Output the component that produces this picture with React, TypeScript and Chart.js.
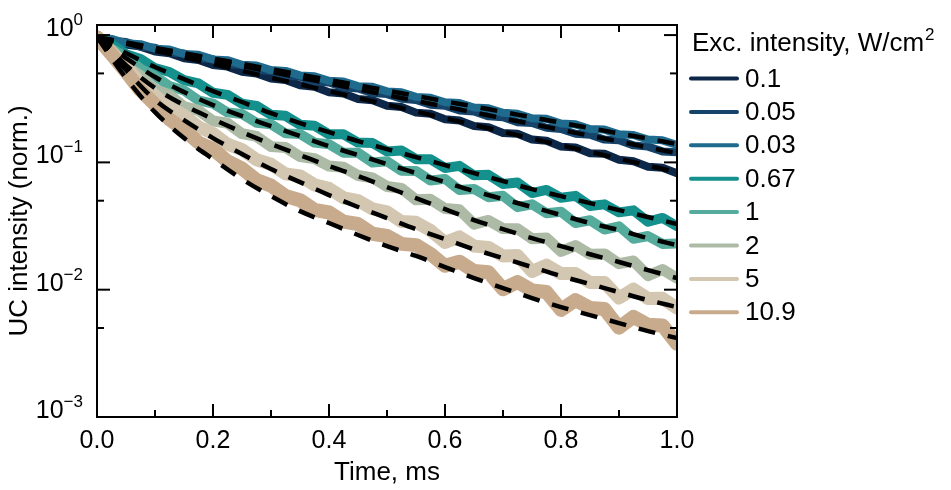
import React, { useEffect, useRef } from 'react';
import { Chart, registerables } from 'chart.js';

Chart.register(...registerables);

const FONT = '"Liberation Sans", Arial, sans-serif';

// legend labels (excitation intensity, W/cm^2) and colours
const LABELS = ['0.1', '0.05', '0.03', '0.67', '1', '2', '5', '10.9'];
const COLORS = ['#0c2747', '#15436a', '#1f6b8e', '#14908d', '#55ab9c', '#adbba6', '#d4c7b1', '#c8aa8c'];
const WIDTHS = [8, 8, 8, 10, 10, 11, 13, 14];

// axis ticks
const X_MAJOR = [0, 0.2, 0.4, 0.6, 0.8, 1.0];
const X_MINOR = [0.1, 0.3, 0.5, 0.7, 0.9];
const Y_MAJOR = [1, 0.1, 0.01, 0.001];
const Y_EXP = ['0', '\u22121', '\u22122', '\u22123'];
const Y_MINOR = [0.5, 0.05, 0.005];

// measured decay time (ms)
const TIME = [0, 0.025, 0.05, 0.075, 0.1, 0.125, 0.15, 0.175, 0.2, 0.225, 0.25, 0.275, 0.3, 0.325, 0.35, 0.375, 0.4, 0.425, 0.45, 0.475, 0.5,
  0.525, 0.55, 0.575, 0.6, 0.625, 0.65, 0.675, 0.7, 0.725, 0.75, 0.775, 0.8, 0.825, 0.85, 0.875, 0.9, 0.925, 0.95, 0.975, 1.0];

// measured UC intensity (normalised)
const D_0_1 = [0.964, 0.918, 0.842, 0.812, 0.744, 0.720, 0.658, 0.637, 0.582, 0.565, 0.515, 0.500, 0.456, 0.443, 0.403, 0.392, 0.356, 0.347, 0.315, 0.308, 0.279,
  0.272, 0.246, 0.241, 0.218, 0.213, 0.193, 0.189, 0.170, 0.168, 0.151, 0.148, 0.133, 0.131, 0.118, 0.117, 0.105, 0.102, 0.0925, 0.0906, 0.0820];
const D_0_05 = [0.964, 0.901, 0.882, 0.811, 0.795, 0.730, 0.716, 0.657, 0.645, 0.591, 0.581, 0.532, 0.523, 0.480, 0.471, 0.432, 0.424, 0.389, 0.381, 0.350, 0.344,
  0.316, 0.309, 0.284, 0.279, 0.256, 0.251, 0.230, 0.226, 0.207, 0.204, 0.187, 0.183, 0.168, 0.165, 0.151, 0.149, 0.136, 0.133, 0.122, 0.120];
const D_0_03 = [0.964, 0.934, 0.861, 0.848, 0.782, 0.770, 0.710, 0.700, 0.644, 0.635, 0.585, 0.577, 0.531, 0.523, 0.482, 0.475, 0.437, 0.431, 0.397, 0.392, 0.361,
  0.355, 0.327, 0.322, 0.297, 0.293, 0.270, 0.266, 0.245, 0.241, 0.222, 0.220, 0.202, 0.199, 0.183, 0.181, 0.166, 0.164, 0.151, 0.149, 0.137];
const D_0_67 = [0.964, 0.851, 0.708, 0.649, 0.550, 0.513, 0.442, 0.417, 0.352, 0.339, 0.289, 0.278, 0.237, 0.232, 0.198, 0.194, 0.166, 0.166, 0.143, 0.142, 0.122,
  0.124, 0.106, 0.106, 0.0904, 0.0939, 0.0791, 0.0798, 0.0677, 0.0696, 0.0574, 0.0608, 0.0527, 0.0546, 0.0455, 0.0468, 0.0405, 0.0420, 0.0342, 0.0366, 0.0315];
const D_1 = [0.964, 0.782, 0.673, 0.545, 0.477, 0.397, 0.368, 0.307, 0.290, 0.247, 0.240, 0.205, 0.199, 0.169, 0.167, 0.143, 0.139, 0.119, 0.119, 0.0998, 0.102,
  0.0858, 0.0857, 0.0721, 0.0742, 0.0606, 0.0619, 0.0532, 0.0546, 0.0445, 0.0468, 0.0398, 0.0409, 0.0334, 0.0351, 0.0297, 0.0315, 0.0251, 0.0264, 0.0229, 0.0231];
const D_2 = [0.964, 0.763, 0.569, 0.481, 0.375, 0.339, 0.274, 0.256, 0.212, 0.203, 0.168, 0.160, 0.133, 0.131, 0.111, 0.107, 0.0935, 0.0915, 0.0789, 0.0756, 0.0646,
  0.0625, 0.0508, 0.0513, 0.0434, 0.0424, 0.0327, 0.0350, 0.0302, 0.0301, 0.0251, 0.0255, 0.0200, 0.0222, 0.0190, 0.0191, 0.0160, 0.0168, 0.0129, 0.0144, 0.0123];
const D_5 = [0.964, 0.736, 0.568, 0.417, 0.334, 0.268, 0.234, 0.190, 0.169, 0.139, 0.126, 0.105, 0.0966, 0.0812, 0.0784, 0.0666, 0.0625, 0.0527, 0.0500, 0.0431, 0.0409,
  0.0343, 0.0338, 0.0292, 0.0235, 0.0260, 0.0220, 0.0215, 0.0184, 0.0186, 0.0139, 0.0156, 0.0134, 0.0134, 0.0114, 0.0114, 0.00861, 0.0101, 0.00853, 0.00855, 0.00715];
const D_10_9 = [0.964, 0.706, 0.515, 0.368, 0.285, 0.218, 0.180, 0.143, 0.127, 0.102, 0.0894, 0.0728, 0.0657, 0.0545, 0.0505, 0.0424, 0.0404, 0.0342, 0.0328, 0.0275, 0.0264,
  0.0229, 0.0224, 0.0191, 0.0154, 0.0166, 0.0140, 0.0137, 0.0101, 0.0115, 0.00988, 0.00958, 0.00694, 0.00828, 0.00720, 0.00706, 0.00503, 0.00611, 0.00530, 0.00524, 0.00375];

// fitted curves (dashed)
const FIT_TIME = [0, 0.05, 0.1, 0.15, 0.2, 0.25, 0.3, 0.35, 0.4, 0.45, 0.5, 0.55, 0.6, 0.65, 0.7, 0.75, 0.8, 0.85, 0.9, 0.95, 1.0];
const F_0_1 = [0.964, 0.853, 0.755, 0.668, 0.591, 0.523, 0.463, 0.410, 0.362, 0.321, 0.284, 0.251, 0.222, 0.197, 0.174, 0.154, 0.136, 0.121, 0.107, 0.0944, 0.0836];
const F_0_05 = [0.964, 0.868, 0.782, 0.704, 0.634, 0.571, 0.514, 0.463, 0.417, 0.375, 0.338, 0.304, 0.274, 0.247, 0.222, 0.200, 0.180, 0.162, 0.146, 0.131, 0.118];
const F_0_03 = [0.964, 0.875, 0.795, 0.722, 0.655, 0.595, 0.540, 0.490, 0.445, 0.404, 0.367, 0.333, 0.302, 0.275, 0.249, 0.226, 0.205, 0.186, 0.169, 0.154, 0.139];
const F_0_67 = [0.964, 0.722, 0.561, 0.451, 0.363, 0.298, 0.244, 0.2036, 0.173, 0.147, 0.1272, 0.110, 0.0952, 0.0824, 0.0713, 0.0617, 0.0543, 0.0479, 0.0422, 0.0372, 0.0328];
const F_1 = [0.964, 0.660, 0.468, 0.357, 0.282, 0.231, 0.193, 0.161, 0.1343, 0.1141, 0.0970, 0.0824, 0.0700, 0.0595, 0.0515, 0.0446, 0.0386, 0.0334, 0.0294, 0.0254, 0.0224];
const F_2 = [0.964, 0.581, 0.383, 0.282, 0.219, 0.173, 0.1393, 0.1141, 0.0935, 0.0781, 0.0640, 0.0524, 0.0430, 0.0352, 0.0299, 0.0254, 0.0220, 0.0190, 0.0165, 0.01425, 0.01233];
const F_5 = [0.964, 0.531, 0.309, 0.215, 0.1552, 0.1162, 0.0886, 0.0700, 0.0553, 0.0446, 0.0365, 0.0299, 0.0250, 0.0208, 0.0177, 0.01505, 0.01279, 0.01107, 0.00957, 0.00828, 0.00730];
const F_10_9 = [0.964, 0.460, 0.248, 0.1552, 0.1061, 0.0739, 0.0543, 0.0414, 0.0334, 0.0269, 0.0220, 0.0184, 0.01505, 0.01233, 0.01029, 0.00859, 0.00730, 0.00632, 0.00547, 0.00473, 0.00417];

const DATA_SERIES = [D_0_1, D_0_05, D_0_03, D_0_67, D_1, D_2, D_5, D_10_9];
const FIT_SERIES = [F_0_1, F_0_05, F_0_03, F_0_67, F_1, F_2, F_5, F_10_9];

const framePlugin = {
  id: 'frameAndLegend',
  afterDraw(chart: any) {
    const { ctx, chartArea: a, scales } = chart;
    const xs = scales.x;
    const ys = scales.y;
    ctx.save();
    ctx.strokeStyle = '#000';
    ctx.lineWidth = 2;
    ctx.lineCap = 'butt';
    ctx.strokeRect(a.left, a.top, a.right - a.left, a.bottom - a.top);
    const seg = (x1: number, y1: number, x2: number, y2: number) => {
      ctx.beginPath();
      ctx.moveTo(x1, y1);
      ctx.lineTo(x2, y2);
      ctx.stroke();
    };
    X_MAJOR.forEach((v) => {
      const p = xs.getPixelForValue(v);
      seg(p, a.bottom, p, a.bottom - 13);
      seg(p, a.top, p, a.top + 13);
    });
    X_MINOR.forEach((v) => {
      const p = xs.getPixelForValue(v);
      seg(p, a.bottom, p, a.bottom - 7);
      seg(p, a.top, p, a.top + 7);
    });
    Y_MAJOR.forEach((v) => {
      const p = ys.getPixelForValue(v);
      seg(a.left, p, a.left + 13, p);
      seg(a.right, p, a.right - 13, p);
    });
    Y_MINOR.forEach((v) => {
      const p = ys.getPixelForValue(v);
      seg(a.left, p, a.left + 7, p);
      seg(a.right, p, a.right - 7, p);
    });

    // y tick labels with superscript exponents
    ctx.fillStyle = '#000';
    ctx.textBaseline = 'alphabetic';
    ctx.textAlign = 'left';
    Y_MAJOR.forEach((v, i) => {
      const p = ys.getPixelForValue(v);
      const exp = Y_EXP[i];
      ctx.font = `17px ${FONT}`;
      const we = ctx.measureText(exp).width;
      ctx.font = `25px ${FONT}`;
      const wb = ctx.measureText('10').width;
      const xr = a.left - 14;
      ctx.fillText('10', xr - we - wb, p + 1);
      ctx.font = `17px ${FONT}`;
      ctx.fillText(exp, xr - we, p - 10);
    });

    // legend
    ctx.font = `26px ${FONT}`;
    ctx.textBaseline = 'alphabetic';
    const title = 'Exc. intensity, W/cm';
    ctx.fillText(title, 692, 51);
    const tw = ctx.measureText(title).width;
    ctx.font = `17px ${FONT}`;
    ctx.fillText('2', 692 + tw + 1, 40);
    ctx.font = `26px ${FONT}`;
    ctx.textBaseline = 'middle';
    LABELS.forEach((lab, i) => {
      const y = 78.5 + 33.4 * i;
      ctx.strokeStyle = COLORS[i];
      ctx.lineWidth = 4;
      ctx.lineCap = 'round';
      seg(691, y, 737, y);
      ctx.fillStyle = '#000';
      ctx.fillText(lab, 745, y + 1);
    });
    ctx.restore();
  },
};

export default function App() {
  const ref = useRef<HTMLCanvasElement | null>(null);

  useEffect(() => {
    if (!ref.current) return;
    const dataSets = DATA_SERIES.map((arr, i) => ({
      label: LABELS[i],
      data: arr.map((v, j) => ({ x: TIME[j], y: v })),
      borderColor: COLORS[i],
      backgroundColor: COLORS[i],
      borderWidth: WIDTHS[i],
      borderJoinStyle: 'round' as const,
      borderCapStyle: 'round' as const,
      pointRadius: 0,
      tension: 0,
      order: 20 - i,
    }));
    const fitSets = FIT_SERIES.map((arr, i) => ({
      label: 'fit ' + LABELS[i],
      data: arr.map((v, j) => ({ x: FIT_TIME[j], y: v })),
      borderColor: '#000',
      backgroundColor: '#000',
      borderWidth: 4.5,
      borderDash: [17, 13],
      pointRadius: 0,
      cubicInterpolationMode: 'monotone' as const,
      order: i,
    }));
    const chart = new Chart(ref.current, {
      type: 'line',
      data: { datasets: [...dataSets, ...fitSets] as any },
      options: {
        animation: false,
        responsive: false,
        devicePixelRatio: 1,
        layout: { padding: { left: 0, top: 25, right: 274, bottom: 0 } },
        plugins: { legend: { display: false }, tooltip: { enabled: false } },
        scales: {
          x: {
            type: 'linear',
            min: 0,
            max: 1,
            grid: { display: false, drawTicks: false },
            border: { display: false },
            ticks: {
              stepSize: 0.2,
              padding: 9,
              color: '#000',
              font: { family: FONT, size: 25 },
              callback: (v: any) => Number(v).toFixed(1),
            },
            title: {
              display: true,
              text: 'Time, ms',
              color: '#000',
              font: { family: FONT, size: 26 },
              padding: { top: 0, bottom: 2 },
            },
            afterFit: (s: any) => {
              s.height = 73;
            },
          },
          y: {
            type: 'logarithmic',
            min: 0.001,
            max: 1.2,
            grid: { display: false, drawTicks: false },
            border: { display: false },
            ticks: { display: false },
            title: {
              display: true,
              text: 'UC intensity (norm.)',
              color: '#000',
              font: { family: FONT, size: 26 },
              padding: { top: 4, bottom: 0 },
            },
            afterFit: (s: any) => {
              s.width = 97;
            },
          },
        },
      },
      plugins: [framePlugin],
    });
    return () => chart.destroy();
  }, []);

  return (
    <div style={{ position: 'fixed', left: 0, top: 0, width: 951, height: 490, background: '#fff' }}>
      <canvas ref={ref} width={951} height={490} style={{ display: 'block' }} />
    </div>
  );
}
